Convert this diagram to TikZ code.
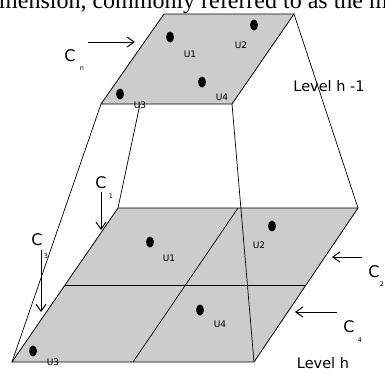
\documentclass[tikz,border=0pt]{standalone}
\usepackage{fontspec}
\setmainfont{Liberation Serif}
\newfontfamily\labelfont{DejaVu Sans}
\usetikzlibrary{arrows.meta,shapes.geometric}
\definecolor{cellgray}{HTML}{CCCCCC}

\begin{document}
\begin{tikzpicture}[
			x=1pt,y=-1pt,
			every node/.style={inner sep=0pt},
			plane/.style={draw=black,fill=cellgray,line width=0.8pt},
			edge/.style={draw=black,line width=0.7pt},
			unit/.style={ellipse,fill=black,minimum width=8pt,minimum height=11pt},
			ulabel/.style={font=\labelfont\fontsize{9}{10}\selectfont},
			clabel/.style={font=\labelfont\fontsize{16}{17}\selectfont},
			csub/.style={font=\labelfont\fontsize{6.5}{7}\selectfont},
			lvl/.style={font=\labelfont\fontsize{14.5}{16}\selectfont},
			carr/.style={-{Straight Barb[length=7pt,width=10pt]},line width=1pt}
			]
			\useasboundingbox (0,0) rectangle (385,373);
			% clipped line of body text
			\node[anchor=base west,font=\fontsize{24}{26}\selectfont] (caption) at (-1,8) {mension, commonly referred to as the m};
			% corners of level h-1
			\coordinate (tTL) at (164,14);
			\coordinate (tTR) at (294,14);
			\coordinate (tBR) at (232,104);
			\coordinate (tBL) at (101,104);
			\coordinate (tBM) at (140,104);
			% corners of level h
			\coordinate (bTL) at (118,208);
			\coordinate (bTR) at (358,208);
			\coordinate (bBR) at (254,362);
			\coordinate (bBL) at (12,362);
			\coordinate (bML) at (65,285);
			\coordinate (bMR) at (306,285);
			\coordinate (bMT) at (238,208);
			\coordinate (bMB) at (133,362);
			% planes
			\draw[plane] (tTL)--(tTR)--(tBR)--(tBL)--cycle;
			\draw[plane] (bTL)--(bTR)--(bBR)--(bBL)--cycle;
			\draw[edge] (bML)--(bMR);
			\draw[edge] (bMT)--(bMB);
			% side lines
			\draw[edge] (tBL)--(bBL);
			\draw[edge] (tBM)--(bTL);
			\draw[edge] (tBR)--(bBR);
			\draw[edge] (tTR)--(bTR);
			% units of level h-1
			\node[unit] (tU1) at (170,37) {};
			\node[unit] (tU2) at (254,25) {};
			\node[unit] (tU4) at (202,82) {};
			\node[unit] (tU3) at (120,94) {};
			\node[ulabel] (tU1l) at (190,54) {U1};
			\node[ulabel] (tU2l) at (241,45) {U2};
			\node[ulabel] (tU4l) at (222,97) {U4};
			\node[ulabel] (tU3l) at (140,105) {U3};
			% units of level h
			\node[unit] (bU1) at (150,242) {};
			\node[unit] (bU2) at (272,226) {};
			\node[unit] (bU4) at (200,310) {};
			\node[unit] (bU3) at (33,351) {};
			\node[ulabel] (bU1l) at (169,258) {U1};
			\node[ulabel] (bU2l) at (259,245) {U2};
			\node[ulabel] (bU4l) at (220,324) {U4};
			\node[ulabel] (bU3l) at (53,362) {U3};
			% cursors
			\coordinate (cnS) at (88,42);
			\coordinate (cnE) at (135,42);
			\coordinate (c1S) at (101,192);
			\coordinate (c1E) at (101,230);
			\coordinate (c3S) at (41,250);
			\coordinate (c3E) at (41,312);
			\coordinate (c2S) at (362,257);
			\coordinate (c2E) at (332,257);
			\coordinate (c4S) at (337,312);
			\coordinate (c4E) at (295,312);
			\draw[carr] (cnS)--(cnE);
			\draw[carr] (c1S)--(c1E);
			\draw[carr] (c3S)--(c3E);
			\draw[carr] (c2S)--(c2E);
			\draw[carr] (c4S)--(c4E);
			\node[clabel] (cn) at (70,56) {C};
			\node[csub] (cnsub) at (82,69) {n};
			\node[clabel] (c1) at (101,183) {C};
			\node[csub] (c1sub) at (111,196) {1};
			\node[clabel] (c3) at (37,240) {C};
			\node[csub] (c3sub) at (46,256) {3};
			\node[clabel] (c2) at (374,272) {C};
			\node[csub] (c2sub) at (382,284) {2};
			\node[clabel] (c4) at (349,327) {C};
			\node[csub] (c4sub) at (360,340) {4};
			% levels
			\node[lvl] (lvtop) at (329,86) {Level h -1};
			\node[lvl] (lvbot) at (323,363) {Level h};
		\end{tikzpicture}
\end{document}
